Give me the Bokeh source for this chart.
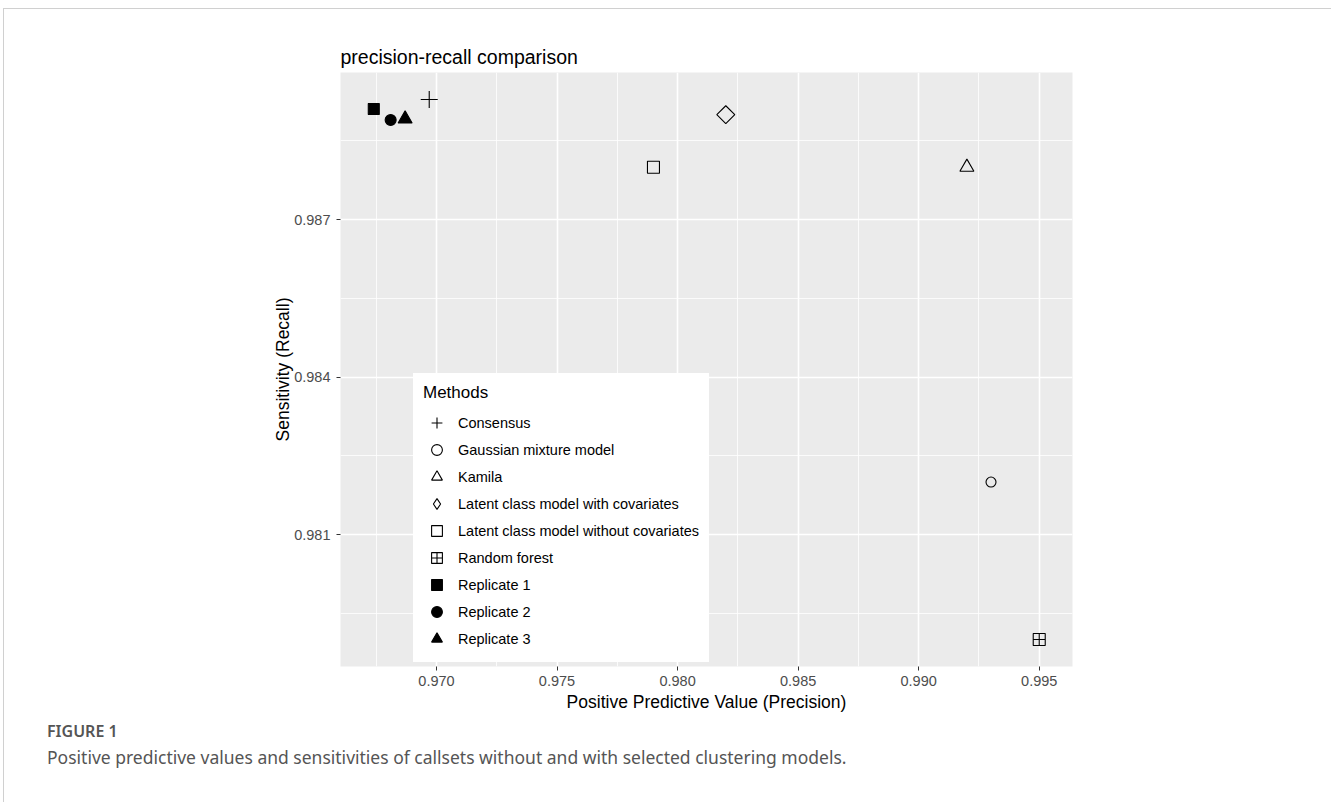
import numpy as np
from bokeh.plotting import figure
from bokeh.models import Range1d, FixedTicker, Legend, LegendItem, Div, BoxAnnotation
from bokeh.layouts import column
from bokeh.embed import file_html
from bokeh.resources import INLINE

# ---- data ----
methods = ["Consensus", "Gaussian mixture model", "Kamila",
           "Latent class model with covariates",
           "Latent class model without covariates", "Random forest",
           "Replicate 1", "Replicate 2", "Replicate 3"]
ppv = [0.9697, 0.993, 0.992, 0.982, 0.979, 0.995, 0.9674, 0.9681, 0.9687]
sens = [0.98929, 0.982, 0.988, 0.989, 0.988, 0.979, 0.98911, 0.98890, 0.98892]

x_ticks = [0.970, 0.975, 0.980, 0.985, 0.990, 0.995]
x_minor = [0.9675, 0.9725, 0.9775, 0.9825, 0.9875, 0.9925]
y_ticks = [0.981, 0.984, 0.987]
y_minor = [0.9795, 0.9825, 0.9855, 0.9885]

# ---- styles ----
markers = ["cross", "circle", "triangle", "square", "square", "square_cross",
           "square", "circle", "triangle"]
legend_markers = ["cross", "circle", "triangle", "diamond", "square",
                  "square_cross", "square", "circle", "triangle"]
sizes = [17, 10, 14, 12.7, 12, 12, 11, 11, 14]
angles = [0, 0, 0, np.pi / 4, 0, 0, 0, 0, 0]
filled = [False, False, False, False, False, False, True, True, True]

FONT = "Liberation Sans"

# legend layout (screen px, relative to the plot frame)
LEG_X, LEG_Y, LEG_PAD, KEY_W, ROW_H = 73, 4, 9, 27, 27

# expanded ranges (5 % like ggplot)
xr = max(ppv) - min(ppv)
yr = max(sens) - min(sens)

p = figure(width=1315, height=710, output_backend="svg", toolbar_location=None,
           x_range=Range1d(min(ppv) - 0.05 * xr, max(ppv) + 0.05 * xr),
           y_range=Range1d(min(sens) - 0.05 * yr, max(sens) + 0.05 * yr),
           min_border_left=332, min_border_right=251,
           min_border_top=63, min_border_bottom=53)
# an off-screen range used only for legend glyphs of rotated markers
p.extra_x_ranges = {"offscreen": Range1d(10, 11)}

p.background_fill_color = "#EBEBEB"
p.border_fill_color = "white"
p.outline_line_color = None

p.title.text = "precision-recall comparison"
p.title.text_font = FONT
p.title.text_font_size = "19.5px"
p.title.text_font_style = "normal"
p.title.text_color = "#000000"
p.title.align = "left"
p.title.standoff = 10

p.xaxis.ticker = FixedTicker(ticks=x_ticks, minor_ticks=x_minor)
p.yaxis.ticker = FixedTicker(ticks=y_ticks, minor_ticks=y_minor)
p.xaxis.major_label_overrides = {t: f"{t:.3f}" for t in x_ticks}
p.yaxis.major_label_overrides = {t: f"{t:.3f}" for t in y_ticks}

for ax in (p.xaxis, p.yaxis):
    ax.axis_line_color = None
    ax.major_tick_line_color = "#333333"
    ax.major_tick_line_width = 1
    ax.major_tick_in = 0
    ax.major_tick_out = 4
    ax.minor_tick_line_color = None
    ax.major_label_text_font = FONT
    ax.major_label_text_font_size = "14.5px"
    ax.major_label_text_color = "#4D4D4D"
    ax.axis_label_text_font = FONT
    ax.axis_label_text_font_size = "17.5px"
    ax.axis_label_text_font_style = "normal"
    ax.axis_label_text_color = "#000000"

p.xaxis.axis_label = "Positive Predictive Value (Precision)"
p.yaxis.axis_label = "Sensitivity (Recall)"
p.xaxis.major_label_standoff = 5
p.xaxis.axis_label_standoff = 3
p.yaxis.major_label_standoff = 6
p.yaxis.axis_label_standoff = -2

for g in (p.xgrid, p.ygrid):
    g.grid_line_color = "white"
    g.grid_line_width = 1.6
    g.minor_grid_line_color = "white"
    g.minor_grid_line_width = 0.8

items = []
for i, m in enumerate(methods):
    fc = "black" if filled[i] else None
    r = p.scatter(x=[ppv[i]], y=[sens[i]], marker=markers[i], size=sizes[i],
                  angle=angles[i], line_color="black", line_width=1.1,
                  fill_color=fc)
    if legend_markers[i] != markers[i]:
        # legends draw markers unrotated: use an off-screen twin for the key
        r = p.scatter(x=[ppv[i]], y=[sens[i]], x_range_name="offscreen",
                      marker=legend_markers[i], size=sizes[i],
                      line_color="black", line_width=1.1, fill_color=fc)
    items.append(LegendItem(label=m, renderers=[r]))

legend = Legend(items=items, location=(LEG_X, LEG_Y), title="Methods",
                title_text_font=FONT, title_text_font_size="17px",
                title_text_font_style="normal",
                title_text_color="#000000", title_standoff=6,
                label_text_font=FONT, label_text_font_size="14.5px",
                label_text_color="#000000",
                glyph_width=KEY_W, glyph_height=ROW_H, label_height=20,
                label_standoff=8, spacing=0, padding=LEG_PAD, margin=0,
                background_fill_color="white", background_fill_alpha=1.0,
                border_line_color="white", border_line_width=1)
p.add_layout(legend, "center")

# light grey strip behind the legend keys (ggplot legend.key)
key_bg = BoxAnnotation(left=LEG_X + LEG_PAD, right=LEG_X + LEG_PAD + KEY_W,
                       bottom=LEG_Y + LEG_PAD,
                       top=LEG_Y + LEG_PAD + ROW_H * len(methods),
                       left_units="screen", right_units="screen",
                       top_units="screen", bottom_units="screen",
                       fill_color="black", fill_alpha=0.05,
                       line_color=None, level="overlay")
p.add_layout(key_bg)

caption = Div(width=1315, text=(
    "<div style=\"font-family:'Noto Sans';color:#555555;padding-left:34px\">"
    "<div style='font-size:16px;font-weight:600;line-height:20px;margin-top:-3px'>FIGURE 1</div>"
    "<div style='font-size:17.5px;line-height:22px;margin-top:5px'>"
    "Positive predictive values and sensitivities of callsets without and with selected clustering models."
    "</div></div>"))

layout = column(p, caption, styles={
    "margin-top": "8px", "margin-left": "3px", "padding-left": "4px",
    "min-height": "794px",
    "border-top": "1px solid #d0d0d0", "border-left": "1px solid #d0d0d0"})

open("out.html", "w").write(file_html(layout, INLINE))
